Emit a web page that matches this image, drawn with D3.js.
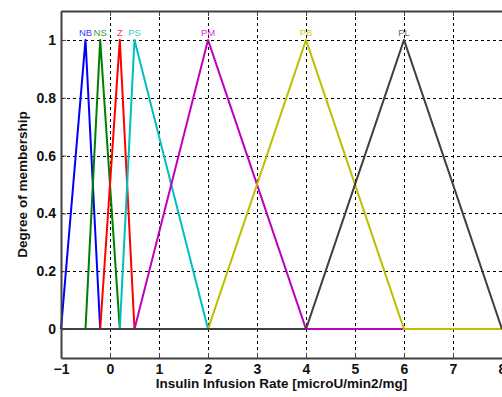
<!DOCTYPE html>
<html>
<head>
<meta charset="utf-8">
<script src="https://cdn.jsdelivr.net/npm/d3@7"></script>
<style>
	body { margin: 0; background: #fff; }
	svg { display: block; }
	text { font-family: "Liberation Sans", Arial, sans-serif; }
</style>
</head>
<body>
<script>
// membership functions (triangular: a, b, c)
const mfNames = ['NB', 'NS', 'Z', 'PS', 'PM', 'PB', 'PL']
const mfParams = [
	[-1, -0.5, -0.2],
	[-0.5, -0.2, 0.2],
	[-0.2, 0.2, 0.5],
	[0.2, 0.5, 2],
	[0.5, 2, 4],
	[2, 4, 6],
	[4, 6, 8],
]
const xRange = [-1, 8]
const xTicks = [-1, 0, 1, 2, 3, 4, 5, 6, 7, 8]
const yTicks = [0, 0.2, 0.4, 0.6, 0.8, 1]

const mfColors = ['#0000ff', '#008000', '#ff0000', '#00bfbf', '#bf00bf', '#bfbf00', '#404040']

const W = 502, H = 397
const m = { left: 61, top: 11, right: 0, bottom: 39 }

const svg = d3.select('body').append('svg')
	.attr('width', W)
	.attr('height', H)

const x = d3.scaleLinear().domain(xRange).range([m.left, W - m.right])
const y = d3.scaleLinear().domain([-0.1, 1.1]).range([H - m.bottom, m.top])

// grid
const grid = svg.append('g')
	.attr('stroke', '#000')
	.attr('stroke-width', 1)
	.attr('stroke-dasharray', '3,3')
grid.selectAll('.vg').data(xTicks).enter().append('line')
	.attr('x1', d => Math.round(x(d)) + 0.5).attr('x2', d => Math.round(x(d)) + 0.5)
	.attr('y1', y.range()[1]).attr('y2', y.range()[0])
grid.selectAll('.hg').data(yTicks).enter().append('line')
	.attr('y1', d => Math.round(y(d)) + 0.5).attr('y2', d => Math.round(y(d)) + 0.5)
	.attr('x1', x.range()[0]).attr('x2', x.range()[1])

// membership curves, full range, last drawn on top
const line = d3.line().x(d => x(d[0])).y(d => y(d[1]))
mfParams.forEach((p, i) => {
	const pts = [[xRange[0], 0], [p[0], 0], [p[1], 1], [p[2], 0], [xRange[1], 0]]
	svg.append('path')
		.attr('d', line(pts))
		.attr('fill', 'none')
		.attr('stroke', mfColors[i])
		.attr('stroke-width', 2)
		.attr('stroke-linejoin', 'round')
})

// labels above peaks
svg.selectAll('.mflabel').data(mfNames).enter().append('text')
	.attr('x', (d, i) => x(mfParams[i][1]))
	.attr('y', y(1) - 4)
	.attr('text-anchor', 'middle')
	.attr('font-size', 9.5)
	.attr('fill', (d, i) => mfColors[i])
	.attr('opacity', 0.8)
	.text(d => d)

// axes
const xAxis = svg.append('g')
	.attr('transform', 'translate(0,' + y.range()[0] + ')')
	.call(d3.axisBottom(x).tickValues(xTicks).tickSizeInner(-5).tickSizeOuter(0).tickPadding(6).tickFormat(d3.format('d')))
const xTop = svg.append('g')
	.attr('transform', 'translate(0,' + y.range()[1] + ')')
	.call(d3.axisTop(x).tickValues(xTicks).tickSizeInner(-5).tickSizeOuter(0).tickFormat(''))
const yAxis = svg.append('g')
	.attr('transform', 'translate(' + x.range()[0] + ',0)')
	.call(d3.axisLeft(y).tickValues(yTicks).tickSizeInner(-5).tickSizeOuter(0).tickPadding(5).tickFormat(d => d === 0 || d === 1 ? d : d3.format('.1f')(d)))

;[xAxis, xTop, yAxis].forEach(g => {
	g.select('.domain').attr('stroke', '#404040').attr('stroke-width', 2)
	g.selectAll('.tick line').attr('stroke', '#404040')
	g.selectAll('.tick text')
		.attr('font-family', '"Liberation Sans", Arial, sans-serif')
		.attr('font-size', 14)
		.attr('font-weight', 'bold')
		.attr('fill', '#111')
})

// axis titles
svg.append('text')
	.attr('x', (x.range()[0] + x.range()[1]) / 2)
	.attr('y', 388)
	.attr('text-anchor', 'middle')
	.attr('font-size', 13.5)
	.attr('font-weight', 'bold')
	.attr('fill', '#111')
	.text('Insulin Infusion Rate [microU/min2/mg]')

svg.append('text')
	.attr('transform', 'translate(27,' + (y.range()[0] + y.range()[1]) / 2 + ') rotate(-90)')
	.attr('text-anchor', 'middle')
	.attr('font-size', 13.5)
	.attr('font-weight', 'bold')
	.attr('fill', '#111')
	.text('Degree of membership')
</script>
</body>
</html>
